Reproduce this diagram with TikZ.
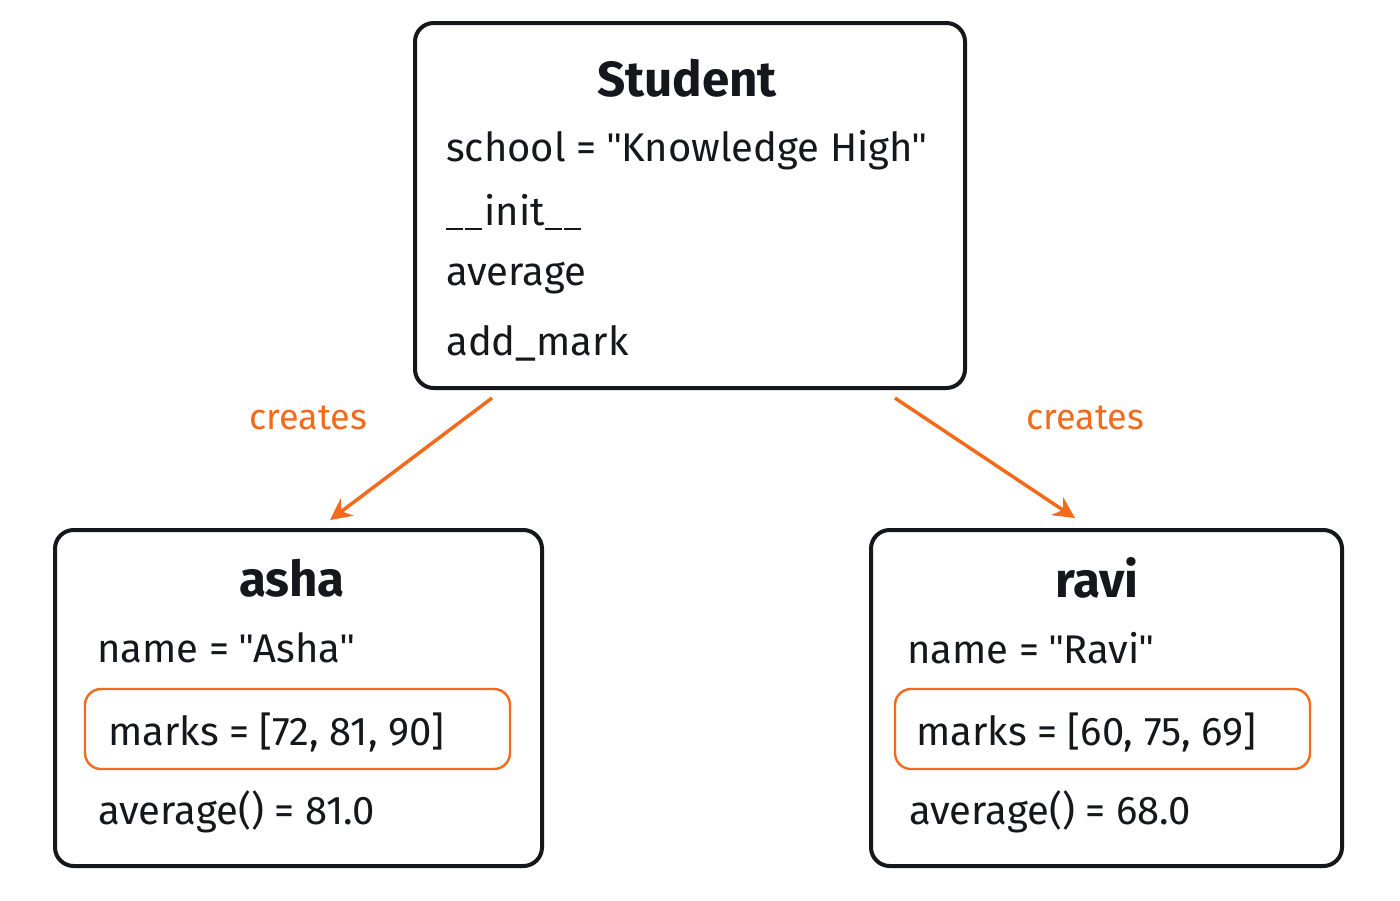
\documentclass[tikz,border=0pt]{standalone}
\usepackage{fontspec}
\setmainfont{Fira Sans}
\newfontfamily\qfont{Liberation Sans}
\usetikzlibrary{arrows.meta}
\definecolor{org}{HTML}{F26B1D}
\definecolor{ink}{HTML}{15171C}
\newcommand{\qq}{{\qfont\char34}}
\newcommand{\us}{\rule[-0.12em]{0.42em}{0.06em}\hspace{0.06em}}
\begin{document}
\begin{tikzpicture}[x=0.75pt,y=-0.75pt,
  box/.style={draw=ink,line width=3pt,rounded corners=14pt},
  obox/.style={draw=org,line width=1.8pt,rounded corners=12pt},
  ttl/.style={font=\fontsize{37}{40}\selectfont\bfseries,text=ink},
  txt/.style={font=\fontsize{30}{32}\selectfont,text=ink,anchor=west,inner sep=0pt},
  lbl/.style={font=\fontsize{27}{30}\selectfont,text=org},
  arr/.style={draw=org,line width=2.6pt,-{Stealth[length=16pt,width=16pt]}}]
\useasboundingbox[fill=white] (0,0) rectangle (1400,900);
\draw[box] (415,23) rectangle (965,388);
\draw[box] (55,530) rectangle (542,866);
\draw[box] (871,530) rectangle (1342,866);
\draw[obox] (85,689) rectangle (510,769);
\draw[obox] (895,689) rectangle (1310,769);
\node[ttl] (st) at (687,78) {Student};
\node[txt] (s1) at (446,150) {school = \qq Knowledge High\qq};
\node[txt] (s2) at (446,212) {\us\us init\us\us};
\node[txt] (s3) at (446,278) {average};
\node[txt] (s4) at (446,343) {add\_mark};
\node[ttl] (at) at (292,578) {asha};
\node[txt] (a1) at (97,648) {name = \qq Asha\qq};
\node[txt] (a2) at (108,732) {marks = [72, 81, 90]};
\node[txt] (a3) at (98,812) {average() = 81.0};
\node[ttl] (rt) at (1097,578) {ravi};
\node[txt] (r1) at (907,648) {name = \qq Ravi\qq};
\node[txt] (r2) at (916,732) {marks = [60, 75, 69]};
\node[txt] (r3) at (909,812) {average() = 68.0};
\node[lbl] (c1) at (308,418) {creates};
\node[lbl] (c2) at (1085,418) {creates};
\coordinate (p1) at (492,398); \coordinate (q1) at (330,520);
\coordinate (p2) at (895,398); \coordinate (q2) at (1075,518);
\draw[arr] (p1) -- (q1);
\draw[arr] (p2) -- (q2);
\end{tikzpicture}
\end{document}
